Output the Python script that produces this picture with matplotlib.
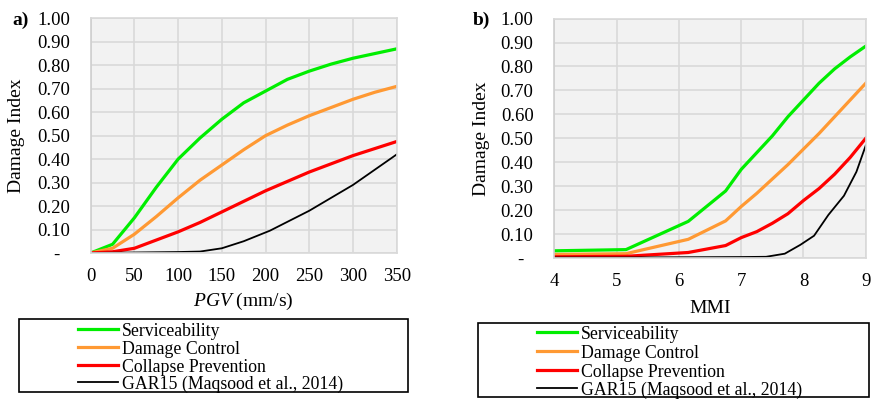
import matplotlib.pyplot as plt
from matplotlib.patches import Rectangle
from matplotlib.lines import Line2D

plt.rcParams['font.family'] = ['Liberation Serif', 'DejaVu Serif']
plt.rcParams['mathtext.fontset'] = 'custom'
plt.rcParams['mathtext.rm'] = 'Liberation Serif'
plt.rcParams['mathtext.it'] = 'Liberation Serif:italic'

# panel a: PGV (mm/s)
pgv = [0, 25, 50, 75, 100, 125, 150, 175, 200, 225, 250, 275, 300, 325, 350]
pgv_serv = [0.0, 0.037, 0.15, 0.28, 0.40, 0.49, 0.57, 0.64, 0.69, 0.74, 0.775, 0.805, 0.83, 0.85, 0.87]
pgv_dc = [0.0, 0.02, 0.08, 0.155, 0.235, 0.31, 0.375, 0.44, 0.50, 0.545, 0.585, 0.62, 0.655, 0.685, 0.71]
pgv_cp = [0.0, 0.005, 0.02, 0.055, 0.09, 0.13, 0.175, 0.22, 0.265, 0.305, 0.345, 0.38, 0.415, 0.445, 0.475]
pgv_gar_x = [0, 50, 100, 125, 150, 175, 205, 250, 300, 350]
pgv_gar = [0.0, 0.002, 0.004, 0.006, 0.02, 0.05, 0.095, 0.18, 0.29, 0.42]

# panel b: MMI
mmi = [4.0, 5.15, 6.15, 6.75, 7.0, 7.25, 7.5, 7.75, 8.0, 8.25, 8.5, 8.75, 9.0]
mmi_serv = [0.03, 0.035, 0.153, 0.28, 0.37, 0.44, 0.51, 0.59, 0.66, 0.73, 0.79, 0.84, 0.885]
mmi_dc = [0.015, 0.018, 0.078, 0.155, 0.215, 0.27, 0.33, 0.39, 0.455, 0.52, 0.59, 0.66, 0.73]
mmi_cp = [0.005, 0.007, 0.023, 0.052, 0.085, 0.11, 0.145, 0.185, 0.24, 0.29, 0.35, 0.42, 0.50]
mmi_gar_x = [4.0, 5.0, 6.0, 7.0, 7.4, 7.7, 7.95, 8.17, 8.4, 8.65, 8.85, 9.0]
mmi_gar = [0.002, 0.002, 0.003, 0.004, 0.005, 0.018, 0.055, 0.093, 0.18, 0.26, 0.36, 0.47]

labels = ['Serviceability', 'Damage Control', 'Collapse Prevention',
          'GAR15 (Maqsood et al., 2014)']
colors = ['#00ee00', '#ff9933', '#ff0000', '#000000']
widths = [2.3, 2.3, 2.3, 1.3]

yticks = [i / 10 for i in range(11)]
ylabels = ['-  '] + ['%.2f' % v for v in yticks[1:]]

W, H = 873, 399
fig = plt.figure(figsize=(W / 100, H / 100), dpi=100)
ax_a = fig.add_axes([0.1039, 0.366, 0.3505, 0.588])
ax_b = fig.add_axes([0.635, 0.3534, 0.3567, 0.600])


def style(ax):
    ax.set_facecolor('#f2f2f2')
    ax.grid(True, color='#d9d9d9', lw=1.2)
    ax.set_axisbelow(True)
    for s in ax.spines.values():
        s.set_color('#d9d9d9')
        s.set_linewidth(1.2)
    ax.spines['left'].set_color('#cfcfcf')
    ax.set_ylim(0, 1)
    ax.set_yticks(yticks)
    ax.set_yticklabels(ylabels)
    ax.tick_params(length=0, labelsize=13.5)
    ax.tick_params(axis='y', pad=15)
    ax.tick_params(axis='x', pad=11)
    ax.set_ylabel('Damage Index', fontsize=14)
    ax.yaxis.label.set_va('center')
    ax.xaxis.label.set_va('center')


def legend_box(box, x0, rows):
    # box in pixels (left, top, right, bottom); rows = y centres of entries
    l, t, r, b = box
    fig.patches.append(Rectangle((l / W, 1 - b / H), (r - l) / W, (b - t) / H,
                                 transform=fig.transFigure, fill=False,
                                 ec='black', lw=1.2))
    for y, c, w, lab in zip(rows, colors, widths, labels):
        fig.add_artist(Line2D([x0 / W, (x0 + 40) / W], [1 - y / H, 1 - y / H],
                              color=c, lw=w, transform=fig.transFigure))
        fig.text((x0 + 44) / W, 1 - (y + 2.5) / H, lab, fontsize=12.8, va='center')


series_a = [(pgv, pgv_serv), (pgv, pgv_dc), (pgv, pgv_cp), (pgv_gar_x, pgv_gar)]
for (x, y), c, w in zip(series_a, colors, widths):
    ax_a.plot(x, y, color=c, lw=w)
style(ax_a)
ax_a.set_xlim(0, 350)
ax_a.set_xticks(range(0, 351, 50))
ax_a.set_xlabel('$\\mathit{PGV}$ (mm/s)', fontsize=14)
ax_a.yaxis.set_label_coords(-0.242, 0.5)
ax_a.xaxis.set_label_coords(0.5, -0.2075)

series_b = [(mmi, mmi_serv), (mmi, mmi_dc), (mmi, mmi_cp), (mmi_gar_x, mmi_gar)]
for (x, y), c, w in zip(series_b, colors, widths):
    ax_b.plot(x, y, color=c, lw=w)
style(ax_b)
ax_b.set_xlim(4, 9)
ax_b.set_xticks(range(4, 10))
ax_b.set_xlabel('MMI', fontsize=14)
ax_b.yaxis.set_label_coords(-0.233, 0.5)
ax_b.xaxis.set_label_coords(0.5, -0.2096)

fig.text(12 / W, 1 - 20 / H, 'a)', fontsize=14, fontweight='bold', va='center')
fig.text(473 / W, 1 - 20 / H, 'b)', fontsize=14, fontweight='bold', va='center')

legend_box((19, 319, 408, 392), 78, [329, 346.7, 364.5, 382])
legend_box((478, 323, 869, 397), 537, [332.3, 351, 369.7, 388])

fig.savefig('out.png', dpi=100)
